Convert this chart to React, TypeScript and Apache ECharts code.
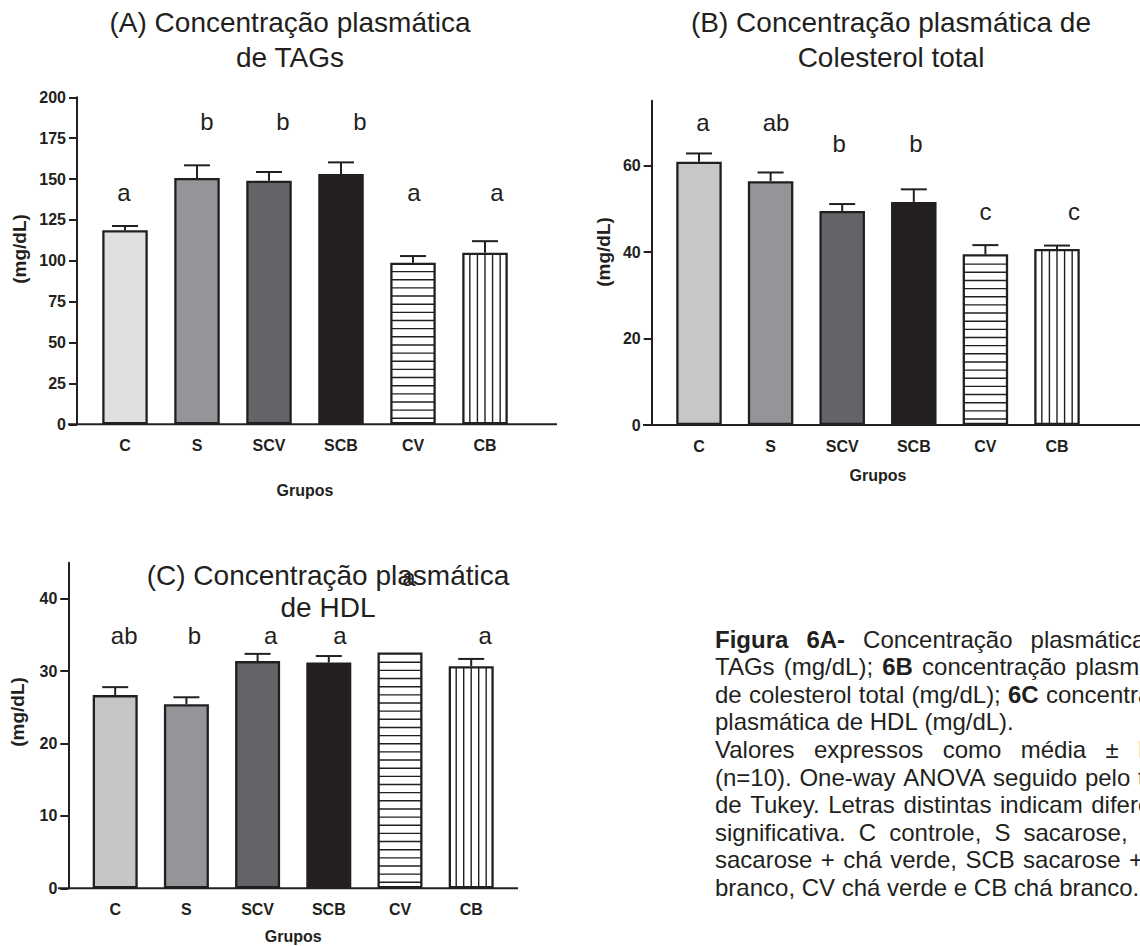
import React, { useEffect, useRef } from 'react';
import * as echarts from 'echarts';

// ---------- DATA ----------
const groups = ['C', 'S', 'SCV', 'SCB', 'CV', 'CB'];

const tagMean = [118.7, 150.6, 149.0, 153.1, 98.8, 105.0];
const tagSem = [2.6, 7.8, 5.3, 7.1, 4.1, 7.0];
const tagLetters = ['a', 'b', 'b', 'b', 'a', 'a'];
const tagLetterY = [141.5, 185, 185, 185, 141.5, 141.5];
const tagTicks = [0, 25, 50, 75, 100, 125, 150, 175, 200];

const colMean = [60.9, 56.4, 49.5, 51.6, 39.5, 40.7];
const colSem = [1.9, 2.0, 1.6, 2.9, 2.1, 0.8];
const colLetters = ['a', 'ab', 'b', 'b', 'c', 'c'];
const colLetterY = [70, 70, 65, 65, 49.4, 49.4];
const colTicks = [0, 20, 40, 60];

const hdlMean = [26.7, 25.45, 31.4, 31.2, 32.6, 30.7];
const hdlSem = [1.1, 0.95, 1.0, 0.9, null, 1.0];
const hdlLetters = ['ab', 'b', 'a', 'a', 'a', 'a'];
const hdlLetterY = [35, 35, 35, 35, 43, 35];
const hdlTicks = [0, 10, 20, 30, 40];

const captionLines: [string, boolean][][] = [
  [['Figura', true], ['6A-', true], ['Concentração', false], ['plasmática', false], ['de', false]],
  [['TAGs', false], ['(mg/dL);', false], ['6B', true], ['concentração', false], ['plasmática', false]],
  [['de', false], ['colesterol', false], ['total', false], ['(mg/dL);', false], ['6C', true], ['concentração', false]],
  [['plasmática', false], ['de', false], ['HDL', false], ['(mg/dL).', false]],
  [['Valores', false], ['expressos', false], ['como', false], ['média', false], ['±', false], ['EPM', false]],
  [['(n=10).', false], ['One-way', false], ['ANOVA', false], ['seguido', false], ['pelo', false], ['teste', false]],
  [['de', false], ['Tukey.', false], ['Letras', false], ['distintas', false], ['indicam', false], ['diferença', false]],
  [['significativa.', false], ['C', false], ['controle,', false], ['S', false], ['sacarose,', false], ['SCV', false]],
  [['sacarose', false], ['+', false], ['chá', false], ['verde,', false], ['SCB', false], ['sacarose', false], ['+', false], ['chá', false]],
  [['branco,', false], ['CV', false], ['chá', false], ['verde', false], ['e', false], ['CB', false], ['chá', false], ['branco.', false]],
];
const captionJustify = [true, true, true, false, true, true, true, true, true, false];

// ---------- STYLE / LAYOUT ----------
const INK = '#231f20';
const FONT = '"Liberation Sans", Arial, Helvetica, sans-serif';
const patterns = [0, 0, 0, 0, 1, 2]; // 0 solid, 1 horizontal lines, 2 vertical lines

const panels = [
  {
    mean: tagMean, sem: tagSem, letters: tagLetters, letterY: tagLetterY, ticks: tagTicks, max: 200,
    grid: { left: 89, top: 97.3, width: 432, height: 327 }, yOffset: 12, barW: 45.5,
    fills: ['#dfe0e2', '#949598', '#636468', '#231f20', '#ffffff', '#ffffff'],
    letterDx: [-1, 10, 14, 19, 1, 12], nameGap: 58, xLine: [68, 557], yName: [19, 249],
    title: '(A) Concentração plasmática\nde TAGs', titleX: 290, titleTop: 4.5, titleLH: 35,
  },
  {
    mean: colMean, sem: colSem, letters: colLetters, letterY: colLetterY, ticks: colTicks, max: 75,
    grid: { left: 663.2, top: 100.7, width: 429.6, height: 324.3 }, yOffset: 11.5, barW: 45.5,
    fills: ['#c6c7c9', '#949598', '#636468', '#231f20', '#ffffff', '#ffffff'],
    letterDx: [4, 5.5, -3, 2, 0, 17], nameGap: 42, xLine: [643, 1140], yName: [603, 252],
    title: '(B) Concentração plasmática de\nColesterol total', titleX: 891, titleTop: 4.5, titleLH: 35,
  },
  {
    mean: hdlMean, sem: hdlSem, letters: hdlLetters, letterY: hdlLetterY, ticks: hdlTicks, max: 45,
    grid: { left: 79.6, top: 562.7, width: 427.2, height: 325.6 }, yOffset: 11.3, barW: 45,
    fills: ['#c5c6c8', '#949598', '#636468', '#231f20', '#ffffff', '#ffffff'],
    letterDx: [9, 8, 13, 11, 9, 14], nameGap: 40, xLine: [58, 518], yName: [17.5, 712],
    title: '(C) Concentração plasmática\nde HDL', titleX: 328, titleTop: 559, titleLH: 32,
  },
];

function buildCaption(): any[] {
  const canvas = document.createElement('canvas');
  const ctx = canvas.getContext('2d')!;
  const size = 24;
  const left = 715;
  const width = 475;
  const top = 639;
  const lh = 27.6;
  const els: any[] = [];
  captionLines.forEach((words, li) => {
    const widths = words.map(([w, b]) => {
      ctx.font = `${b ? 'bold ' : ''}${size}px ${FONT}`;
      return ctx.measureText(w).width;
    });
    ctx.font = `${size}px ${FONT}`;
    const space = ctx.measureText(' ').width;
    const sum = widths.reduce((a, b) => a + b, 0);
    const gap = captionJustify[li] && words.length > 1 ? (width - sum) / (words.length - 1) : space;
    let x = left;
    words.forEach(([w, b], wi) => {
      els.push({
        type: 'text', x, y: top + li * lh, silent: true,
        style: { text: w, font: `${b ? 'bold ' : ''}${size}px ${FONT}`, fill: INK, verticalAlign: 'middle', align: 'left' },
      });
      x += widths[wi] + gap;
    });
  });
  return els;
}

export default function App() {
  const ref = useRef<HTMLDivElement>(null);
  useEffect(() => {
    if (!ref.current) return;
    const chart = echarts.init(ref.current, null, { renderer: 'svg' });

    const grid: any[] = [];
    const xAxis: any[] = [];
    const yAxis: any[] = [];
    const series: any[] = [];
    const graphic: any[] = [];
    const title: any[] = [];

    panels.forEach((p, k) => {
      grid.push({ ...p.grid, containLabel: false });
      xAxis.push({
        type: 'category', gridIndex: k, data: groups,
        axisLine: { show: false }, axisTick: { show: false },
        axisLabel: { margin: 13, fontFamily: FONT, fontWeight: 'bold', fontSize: 16, color: INK },
        name: 'Grupos', nameLocation: 'middle', nameGap: p.nameGap,
        nameTextStyle: { fontFamily: FONT, fontWeight: 'bold', fontSize: 16, color: INK },
      });
      yAxis.push({
        type: 'value', gridIndex: k, min: 0, max: p.max, offset: p.yOffset,
        axisLine: { show: true, lineStyle: { color: INK, width: 2 } },
        axisTick: { show: true, length: 8, lineStyle: { color: INK, width: 2 }, customValues: p.ticks },
        axisLabel: { margin: 11, fontFamily: FONT, fontWeight: 'bold', fontSize: 16, color: INK, customValues: p.ticks },
        splitLine: { show: false },
      });
      series.push({
        type: 'bar', xAxisIndex: k, yAxisIndex: k, barWidth: p.barW, z: 2,
        data: p.mean.map((v, i) => ({ value: v, itemStyle: { color: p.fills[i] } })),
        itemStyle: { borderColor: INK, borderWidth: 2.3 },
        silent: true,
      });
      const barW = p.barW;
      series.push({
        type: 'custom', xAxisIndex: k, yAxisIndex: k, clip: false, silent: true, z: 4,
        encode: { x: 0, y: 1 },
        data: p.mean.map((v, i) => [i, v, p.sem[i] == null ? -1 : p.sem[i], patterns[i]]),
        renderItem: (params: any, api: any) => {
          const i = api.value(0);
          const m = api.value(1);
          const e = api.value(2);
          const pat = api.value(3);
          const base = api.coord([i, 0]);
          const top = api.coord([i, m]);
          const cx = base[0];
          const hw = barW / 2;
          const children: any[] = [];
          const st = { stroke: INK, lineWidth: 1.4 };
          if (pat === 1) {
            for (let y = base[1] - 6; y > top[1] + 3; y -= 8.15) {
              children.push({ type: 'line', shape: { x1: cx - hw + 1.2, y1: y, x2: cx + hw - 1.2, y2: y }, style: st });
            }
          } else if (pat === 2) {
            for (let s = 1; s < 6; s++) {
              const x = cx - hw + (s * barW) / 6;
              children.push({ type: 'line', shape: { x1: x, y1: top[1] + 1, x2: x, y2: base[1] }, style: st });
            }
          }
          if (e > 0) {
            const cap = api.coord([i, m + e]);
            const es = { stroke: INK, lineWidth: 2 };
            children.push({ type: 'line', shape: { x1: cx, y1: top[1], x2: cx, y2: cap[1] }, style: es });
            children.push({ type: 'line', shape: { x1: cx - 13, y1: cap[1], x2: cx + 13, y2: cap[1] }, style: es });
          }
          return { type: 'group', children };
        },
      });
      series.push({
        type: 'scatter', xAxisIndex: k, yAxisIndex: k, symbolSize: 1, silent: true,
        itemStyle: { color: 'rgba(0,0,0,0)', opacity: 1 }, z: 5,
        data: p.letters.map((l, i) => ({
          value: [i, p.letterY[i]],
          label: { show: true, position: 'inside', formatter: l, offset: [p.letterDx[i], 0],
            fontFamily: FONT, fontSize: 24, color: INK, opacity: 1 },
        })),
      });
      graphic.push({
        type: 'line', silent: true,
        shape: { x1: p.xLine[0], y1: p.grid.top + p.grid.height, x2: p.xLine[1], y2: p.grid.top + p.grid.height },
        style: { stroke: INK, lineWidth: 2 },
      });
      graphic.push({
        type: 'text', x: p.yName[0], y: p.yName[1], rotation: Math.PI / 2, silent: true,
        style: { text: '(mg/dL)', font: `bold 19px ${FONT}`, fill: INK, align: 'center', verticalAlign: 'middle' },
      });
      title.push({
        text: p.title, left: p.titleX, top: p.titleTop, textAlign: 'center', padding: 0,
        textStyle: { fontFamily: FONT, fontWeight: 'normal', fontSize: 28, color: INK, lineHeight: p.titleLH },
      });
    });

    graphic.push(...buildCaption());

    chart.setOption({
      animation: false,
      backgroundColor: '#ffffff',
      title, grid, xAxis, yAxis, series, graphic,
    });
    return () => chart.dispose();
  }, []);
  return <div ref={ref} style={{ position: 'absolute', left: 0, top: 0, width: 1140, height: 946 }} />;
}
